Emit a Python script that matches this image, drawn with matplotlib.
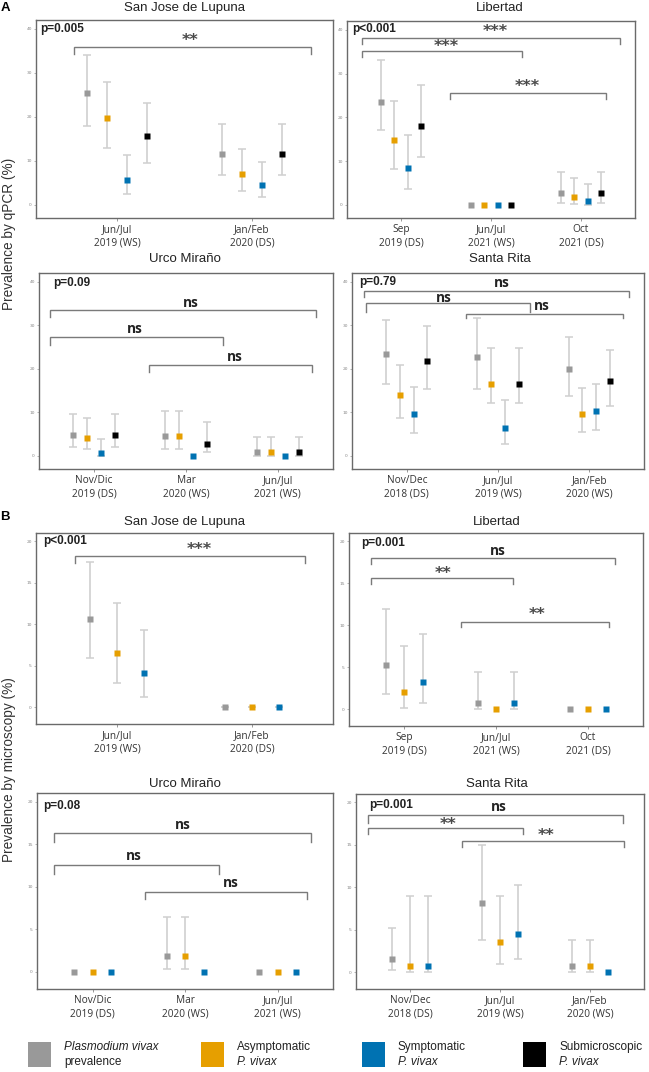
import numpy as np
import matplotlib
matplotlib.use("Agg")
import matplotlib.pyplot as plt
from matplotlib.patches import Rectangle

nan = np.nan
W, H = 649, 1072

# ---------------- data ----------------
series_colors = ["#999999", "#E69F00", "#0072B2", "#000000"]
legend_lines = [("Plasmodium vivax", "prevalence"), ("Asymptomatic", "P. vivax"),
                ("Symptomatic", "P. vivax"), ("Submicroscopic", "P. vivax")]
legend_italic = [(True, False), (False, True), (False, True), (False, True)]

# qPCR panels (rows: P. vivax, asymptomatic, symptomatic, submicroscopic)
sjl_q_periods = ["Jun/Jul\n2019 (WS)", "Jan/Feb\n2020 (DS)"]
sjl_q_mean = [[25.4, 11.5], [19.8, 6.9], [5.7, 4.6], [15.6, 11.5]]
sjl_q_low = [[18.0, 6.7], [13.0, 3.2], [2.4, 1.7], [9.6, 6.7]]
sjl_q_high = [[34.1, 18.3], [27.9, 12.7], [11.4, 9.8], [23.2, 18.3]]

lib_q_periods = ["Sep\n2019 (DS)", "Jun/Jul\n2021 (WS)", "Oct\n2021 (DS)"]
lib_q_mean = [[23.4, 0.0, 2.6], [14.9, 0.0, 1.7], [8.5, 0.0, 0.8], [18.1, 0.0, 2.6]]
lib_q_low = [[17.0, nan, 0.5], [8.3, nan, 0.2], [3.6, nan, 0.0], [10.9, nan, 0.5]]
lib_q_high = [[33.2, nan, 7.4], [23.7, nan, 6.1], [16.0, nan, 4.8], [27.3, nan, 7.4]]

urc_q_periods = ["Nov/Dic\n2019 (DS)", "Mar\n2020 (WS)", "Jun/Jul\n2021 (WS)"]
urc_q_mean = [[4.9, 4.6, 0.8], [4.1, 4.6, 0.8], [0.7, 0.0, 0.0], [4.9, 2.7, 0.8]]
urc_q_low = [[2.0, 1.5, 0.0], [1.5, 1.5, 0.0], [0.0, nan, nan], [2.0, 0.8, 0.0]]
urc_q_high = [[9.7, 10.3, 4.3], [8.8, 10.3, 4.3], [3.8, nan, nan], [9.7, 7.8, 4.3]]

sri_q_periods = ["Nov/Dec\n2018 (DS)", "Jun/Jul\n2019 (WS)", "Jan/Feb\n2020 (WS)"]
sri_q_mean = [[23.3, 22.7, 19.9], [14.0, 16.5, 9.6], [9.6, 6.5, 10.4], [21.9, 16.5, 17.2]]
sri_q_low = [[16.6, 15.4, 13.8], [8.7, 12.2, 5.4], [5.2, 2.7, 5.9], [15.4, 12.2, 11.5]]
sri_q_high = [[31.3, 31.7, 27.2], [20.8, 24.7, 15.6], [15.8, 12.8, 16.6], [29.8, 24.7, 24.3]]

# microscopy panels (rows: P. vivax, asymptomatic, symptomatic)
sjl_m_periods = ["Jun/Jul\n2019 (WS)", "Jan/Feb\n2020 (DS)"]
sjl_m_mean = [[10.6, 0.0], [6.5, 0.0], [4.1, 0.0]]
sjl_m_low = [[5.9, 0.0], [2.9, 0.0], [1.3, 0.0]]
sjl_m_high = [[17.5, 0.0], [12.6, 0.0], [9.3, 0.0]]

lib_m_periods = ["Sep\n2019 (DS)", "Jun/Jul\n2021 (WS)", "Oct\n2021 (DS)"]
lib_m_mean = [[5.3, 0.8, 0.0], [2.1, 0.0, 0.0], [3.2, 0.8, 0.0]]
lib_m_low = [[1.8, 0.0, nan], [0.2, nan, nan], [0.7, 0.0, nan]]
lib_m_high = [[12.0, 4.4, nan], [7.5, nan, nan], [9.0, 4.4, nan]]

urc_m_periods = ["Nov/Dic\n2019 (DS)", "Mar\n2020 (WS)", "Jun/Jul\n2021 (WS)"]
urc_m_mean = [[0.0, 1.85, 0.0], [0.0, 1.85, 0.0], [0.0, 0.0, 0.0]]
urc_m_low = [[nan, 0.3, nan], [nan, 0.3, nan], [nan, nan, nan]]
urc_m_high = [[nan, 6.4, nan], [nan, 6.4, nan], [nan, nan, nan]]

sri_m_periods = ["Nov/Dec\n2018 (DS)", "Jun/Jul\n2019 (WS)", "Jan/Feb\n2020 (WS)"]
sri_m_mean = [[1.5, 8.2, 0.7], [0.7, 3.6, 0.7], [0.7, 4.5, 0.0]]
sri_m_low = [[0.25, 3.8, 0.0], [0.0, 1.0, 0.0], [0.0, 1.5, nan]]
sri_m_high = [[5.2, 15.0, 3.8], [9.0, 9.0, 3.8], [9.0, 10.3, nan]]

p_values = ["p=0.005", "p<0.001", "p=0.09", "p=0.79",
            "p<0.001", "p=0.001", "p=0.08", "p=0.001"]
sig_labels = [["**"], ["***", "***", "***"], ["ns", "ns", "ns"], ["ns", "ns", "ns"],
              ["***"], ["ns", "**", "**"], ["ns", "ns", "ns"], ["ns", "**", "**"]]
titles = ["San Jose de Lupuna", "Libertad", "Urco Miraño", "Santa Rita",
          "San Jose de Lupuna", "Libertad", "Urco Miraño", "Santa Rita"]

# ---------------- layout ----------------
# axes boxes in pixels: left, top, right, bottom
axes_px = [(36, 20, 333, 218), (347, 21, 635, 218), (39, 273, 333, 469), (352, 273, 644, 469),
           (36, 533, 333, 724), (349, 533, 643, 726), (37, 793, 333, 989), (356, 794, 644, 989)]
title_px = [(185, 8), (500, 8), (185, 259), (500, 259),
            (185, 522), (497, 522), (185, 784), (497, 784)]
p_off_px = [(4, 9), (5, 8), (14, 10), (7, 9), (7, 8), (12, 10), (6, 13), (13, 11)]
# brackets: (x1, x2, y, drop, text_x, text_y)
bracket_layout = [
    [(0.68, 2.44, 35.9, 1.6, 1.54, 37.4)],
    [(0.57, 3.43, 38.2, 1.4, 2.05, 39.7), (0.57, 2.34, 35.1, 1.3, 1.50, 36.1), (1.54, 3.28, 25.6, 1.4, 2.40, 27.0)],
    [(0.52, 3.42, 33.5, 1.6, 2.05, 35.0), (0.52, 2.40, 27.4, 1.9, 1.44, 29.1), (1.60, 3.37, 20.8, 1.6, 2.53, 22.7)],
    [(0.53, 3.44, 37.8, 1.2, 2.04, 39.7), (0.55, 2.35, 35.0, 1.9, 1.41, 36.3), (1.65, 3.37, 32.6, 1.0, 2.48, 34.4)],
    [(0.69, 2.39, 18.2, 0.8, 1.61, 19.05)],
    [(0.64, 3.29, 18.0, 0.7, 2.02, 18.8), (0.64, 2.18, 15.6, 0.7, 1.42, 16.15), (1.62, 3.23, 10.4, 0.6, 2.45, 11.25)],
    [(0.58, 3.36, 16.25, 1.05, 1.98, 17.2), (0.58, 2.37, 12.5, 1.0, 1.45, 13.6), (1.57, 3.32, 9.35, 0.75, 2.50, 10.45)],
    [(0.53, 3.37, 18.5, 0.9, 1.99, 19.5), (0.53, 2.26, 17.0, 0.7, 1.42, 17.45), (1.58, 3.38, 15.5, 0.7, 2.51, 16.05)],
]

panels = [
    (sjl_q_periods, sjl_q_mean, sjl_q_low, sjl_q_high),
    (lib_q_periods, lib_q_mean, lib_q_low, lib_q_high),
    (urc_q_periods, urc_q_mean, urc_q_low, urc_q_high),
    (sri_q_periods, sri_q_mean, sri_q_low, sri_q_high),
    (sjl_m_periods, sjl_m_mean, sjl_m_low, sjl_m_high),
    (lib_m_periods, lib_m_mean, lib_m_low, lib_m_high),
    (urc_m_periods, urc_m_mean, urc_m_low, urc_m_high),
    (sri_m_periods, sri_m_mean, sri_m_low, sri_m_high),
]

SANS = ["Liberation Sans", "DejaVu Sans"]
CAT = ["Open Sans", "DejaVu Sans"]

fig = plt.figure(figsize=(W / 100, H / 100), dpi=100)
fig.patch.set_facecolor("white")


def fx(x):
    return x / W


def fy(y):
    return 1 - y / H


for i, (periods, mean, low, high) in enumerate(panels):
    l, t, r, b = axes_px[i]
    ax = fig.add_axes([fx(l), fy(b), (r - l) / W, (b - t) / H])
    qpcr = i < 4
    n_series = len(mean)
    n_per = len(periods)
    base = np.arange(1, n_per + 1)
    dodge = 0.6
    offsets = (np.arange(n_series) - (n_series - 1) / 2) * dodge / n_series
    for s in range(n_series):
        xs = base + offsets[s]
        m = np.array(mean[s], float)
        lo = np.array(low[s], float)
        hi = np.array(high[s], float)
        ok = ~np.isnan(lo)
        if ok.any():
            ax.errorbar(xs[ok], m[ok], yerr=[m[ok] - lo[ok], hi[ok] - m[ok]], fmt="none",
                        ecolor="#d0d0d0", elinewidth=1.2, capsize=3, capthick=1.1, zorder=2)
        ax.plot(xs, m, "s", color=series_colors[s], ms=4.2, mec="none", zorder=3)

    ax.set_xlim(0.4, n_per + 0.6)
    if qpcr:
        ax.set_ylim(-3, 42)
        ax.set_yticks([0, 10, 20, 30, 40])
    else:
        ax.set_ylim(-2, 21)
        ax.set_yticks([0, 5, 10, 15, 20])
    ax.set_xticks(base)
    ax.set_xticklabels(periods, fontsize=7.3, family=CAT, color="#333333", linespacing=1.3)
    ax.tick_params(axis="x", length=2, width=0.6, color="#888888", pad=2.5)
    ax.tick_params(axis="y", length=1.5, width=0.5, color="#999999", pad=1.5,
                   labelsize=3.2, labelcolor="#888888")
    for sp in ax.spines.values():
        sp.set_color("#6a6a6a")
        sp.set_linewidth(1.0)

    # significance brackets
    for (x1, x2, y, d, tx, ty), lab in zip(bracket_layout[i], sig_labels[i]):
        ax.plot([x1, x1, x2, x2], [y - d, y, y, y - d], color="#7a7a7a", lw=1.0,
                solid_joinstyle="miter", zorder=4)
        if lab == "ns":
            ax.text(tx, ty, lab, ha="center", va="center", fontsize=9.8, fontweight="bold",
                    family=CAT, color="#222222")
        else:
            ax.text(tx, ty, lab, ha="center", va="center", fontsize=11.5, fontweight="bold",
                    family=["DejaVu Sans"], color="#4a4a4a")

    # p value
    ox, oy = p_off_px[i]
    ax.text(ox / (r - l), 1 - oy / (b - t), p_values[i], transform=ax.transAxes,
            ha="left", va="center", fontsize=8.5, fontweight="bold", family=SANS, color="#222222")

    # title
    tx, ty = title_px[i]
    fig.text(fx(tx), fy(ty), titles[i], ha="center", va="center", fontsize=9.5,
             family=SANS, color="#222222")

# panel letters
fig.text(fx(5), fy(8), "A", ha="center", va="center", fontsize=9.5, fontweight="bold", family=SANS)
fig.text(fx(5), fy(517), "B", ha="center", va="center", fontsize=9.5, fontweight="bold", family=SANS)

# y labels
fig.text(fx(9), fy(234), "Prevalence by qPCR (%)", rotation=90, ha="center", va="center",
         fontsize=9.8, family=SANS, color="#333333")
fig.text(fx(9), fy(770), "Prevalence by microscopy (%)", rotation=90, ha="center", va="center",
         fontsize=9.8, family=SANS, color="#333333")

# legend
leg_x = [28, 201, 362, 523]
for k in range(4):
    x0 = leg_x[k]
    fig.patches.append(Rectangle((fx(x0), fy(1067)), 23 / W, 25 / H, transform=fig.transFigure,
                                 facecolor=series_colors[k], edgecolor="none"))
    for j, (txt, it) in enumerate(zip(legend_lines[k], legend_italic[k])):
        fig.text(fx(x0 + 36), fy(1047 + j * 15), txt, ha="left", va="center", fontsize=8.5,
                 family=SANS, style="italic" if it else "normal", color="#222222")

fig.savefig("out.png", dpi=100)
